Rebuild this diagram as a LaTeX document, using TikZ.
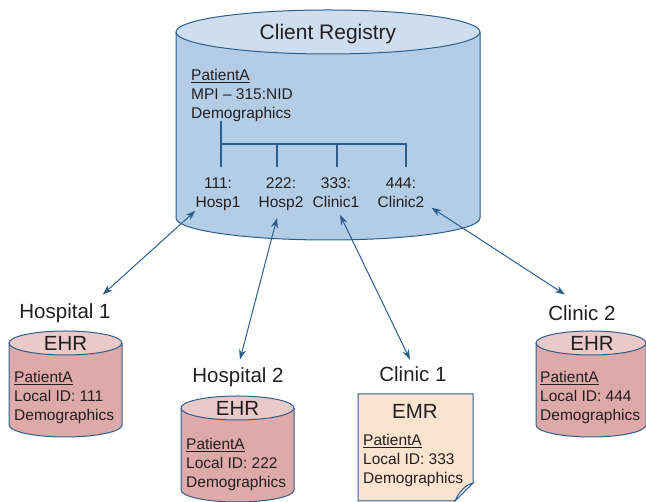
\documentclass[tikz,border=0pt]{standalone}
\usepackage{fontspec}
\setmainfont{Liberation Sans}
\usetikzlibrary{arrows.meta}

\definecolor{linkblue}{RGB}{45,93,140}
\definecolor{regbody}{RGB}{179,205,230}
\definecolor{regtop}{RGB}{206,222,238}
\definecolor{ehrbody}{RGB}{221,169,169}
\definecolor{ehrtop}{RGB}{234,201,201}
\definecolor{emrfill}{RGB}{250,227,207}
\definecolor{flapfill}{RGB}{232,240,248}
\definecolor{inktext}{RGB}{35,31,32}

% drum: centre x, top y, bottom y, x radius, y radius, body colour, top colour
\newcommand{\drum}[7]{%
  \fill[#6] (#1-#4,#2) -- (#1-#4,#3) arc[start angle=180, end angle=360, x radius=#4, y radius=#5] -- (#1+#4,#2) -- cycle;
  \draw[outline] (#1-#4,#2) -- (#1-#4,#3) arc[start angle=180, end angle=360, x radius=#4, y radius=#5] -- (#1+#4,#2);
  \filldraw[outline, fill=#7] (#1,#2) ellipse[x radius=#4, y radius=#5];
}

\begin{document}
\begin{tikzpicture}[
  x=1pt, y=1pt,
  every node/.style={inner sep=0pt, text=inktext},
  outline/.style={draw=linkblue, line width=1pt},
  title/.style={font=\fontsize{21}{25}\selectfont, anchor=base},
  site/.style={font=\fontsize{20.5}{24}\selectfont, anchor=base},
  rec/.style={font=\fontsize{15.5}{19}\selectfont, align=left, anchor=north west},
  idlbl/.style={font=\fontsize{15.5}{19}\selectfont, align=center, anchor=north},
  tree/.style={draw=linkblue, line width=1.8pt},
  link/.style={{Stealth[length=10pt,width=7pt]}-{Stealth[length=10pt,width=7pt]}, draw=linkblue, line width=1pt},
]
\useasboundingbox (0,0) rectangle (646,502);

% Client Registry
\drum{328}{470}{284}{152}{22}{regbody}{regtop}
\node[title] (reg) at (328,462.5) {Client Registry};
\node[rec] (regrec) at (191,432.8) {\underline{PatientA}\\MPI – 315:NID\\Demographics};

\node[idlbl] (id111) at (218,324.5) {111:\\Hosp1};
\node[idlbl] (id222) at (281,324.5) {222:\\Hosp2};
\node[idlbl] (id333) at (336,324.5) {333:\\Clinic1};
\node[idlbl] (id444) at (401,324.5) {444:\\Clinic2};

% id tree
\coordinate (troot) at (221,381);
\draw[tree] (troot) -- (221,335);
\draw[tree] (221,358) -| (406,335);
\foreach \tx in {277,337} \draw[tree] (\tx,358) -- (\tx,335);

% Hospital 1
\node[site] (hospA) at (65,183.8) {Hospital 1};
\drum{65.5}{159}{77}{56.5}{12}{ehrbody}{ehrtop}
\node[site] (ehrA) at (65.5,151.8) {EHR};
\node[rec] (recA) at (14,130.5) {\underline{PatientA}\\Local ID: 111\\Demographics};

% Hospital 2
\node[site] (hospB) at (238,119.8) {Hospital 2};
\drum{237.5}{94}{12}{56.5}{12}{ehrbody}{ehrtop}
\node[site] (ehrB) at (237.5,86.8) {EHR};
\node[rec] (recB) at (186,63.5) {\underline{PatientA}\\Local ID: 222\\Demographics};

% Clinic 1
\node[site] (clinA) at (413,120.8) {Clinic 1};
\filldraw[outline, fill=emrfill] (358,108) -- (473,108) -- (473,19) -- (455,1) -- (358,1) -- cycle;
\filldraw[outline, fill=flapfill] (473,19) .. controls (465,17) and (459,10) .. (455,1) -- cycle;
\node[site] (emr) at (415,83.8) {EMR};
\node[rec] (recC) at (363,67.5) {\underline{PatientA}\\Local ID: 333\\Demographics};

% Clinic 2
\node[site] (clinB) at (582,181.8) {Clinic 2};
\drum{591}{159}{77}{55}{12}{ehrbody}{ehrtop}
\node[site] (ehrC) at (592,151.8) {EHR};
\node[rec] (recD) at (540,130.5) {\underline{PatientA}\\Local ID: 444\\Demographics};

% links
\draw[link] ([shift={(-8pt,8.6pt)}]hospA.north east) -- (id111.south west);
\draw[link] ([shift={(2pt,7.6pt)}]hospB.north) -- ([shift={(-4pt,-7pt)}]id222.south);
\draw[link] ([shift={(-3pt,6.6pt)}]clinA.north) -- ([shift={(4pt,-7pt)}]id333.south);
\draw[link] ([shift={(-17pt,10.6pt)}]clinB.north) -- ([xshift=7pt]id444.south east);
\end{tikzpicture}
\end{document}
